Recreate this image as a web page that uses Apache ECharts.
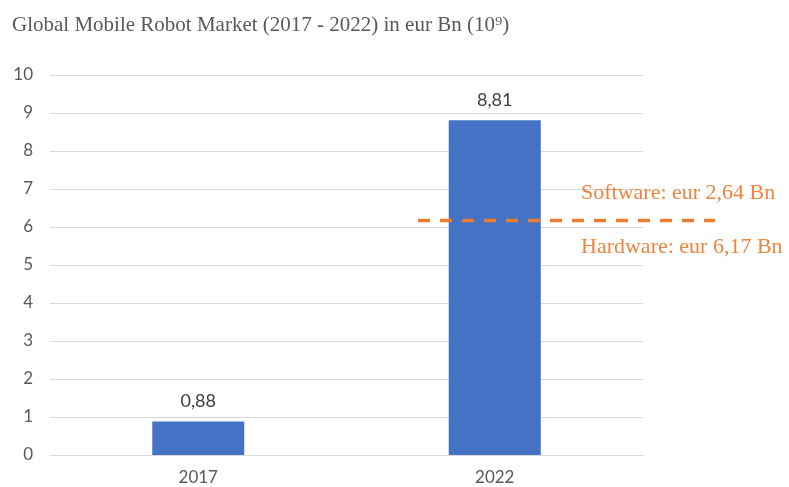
<!DOCTYPE html>
<html>
<head>
<meta charset="utf-8">
<script src="https://cdn.jsdelivr.net/npm/echarts@6/dist/echarts.min.js"></script>
<style>
  html, body { margin: 0; padding: 0; background: #fff; }
  #chart { width: 789px; height: 487px; }
</style>
</head>
<body>
<div id="chart"></div>
<script>
// data
const years = ['2017', '2022'];
const marketValues = [0.88, 8.81];
const hardwareValue = 6.17;
const softwareValue = 2.64;

const fmt = (v) => v.toFixed(2).replace('.', ',');

const chart = echarts.init(document.getElementById('chart'));

chart.setOption({
  animation: false,
  title: {
    text: 'Global Mobile Robot Market (2017 - 2022) in eur Bn (10⁹)',
    left: 7,
    top: 10,
    textStyle: {
      fontFamily: 'Liberation Serif',
      fontWeight: 'normal',
      fontSize: 21,
      color: '#595959',
    },
  },
  grid: [
    { left: 50, right: 146, top: 75, bottom: 32 },
    // grid used only for the split line across the 2022 bar
    { left: 418, right: 74, top: 75, bottom: 32 },
  ],
  xAxis: [
    {
      type: 'category',
      data: years,
      gridIndex: 0,
      axisLine: { lineStyle: { color: '#d9d9d9' } },
      axisTick: { show: false },
      axisLabel: { color: '#595959', fontSize: 17, fontFamily: 'Lato', margin: 14 },
    },
    { type: 'value', gridIndex: 1, min: 0, max: 1, show: false },
  ],
  yAxis: [
    {
      type: 'value',
      gridIndex: 0,
      min: 0,
      max: 10,
      interval: 1,
      axisLine: { show: false },
      axisTick: { show: false },
      splitLine: { lineStyle: { color: '#d9d9d9' } },
      axisLabel: { color: '#595959', fontSize: 17, fontFamily: 'Lato', margin: 17 },
    },
    { type: 'value', gridIndex: 1, min: 0, max: 10, show: false },
  ],
  series: [
    {
      type: 'bar',
      data: marketValues,
      barWidth: 92,
      itemStyle: { color: '#4472c4' },
      label: {
        show: true,
        position: 'top',
        distance: 11,
        color: '#404040',
        fontSize: 18,
        fontFamily: 'Lato',
        formatter: (p) => fmt(p.value),
      },
    },
    {
      type: 'line',
      xAxisIndex: 1,
      yAxisIndex: 1,
      symbol: 'circle',
      symbolSize: 0,
      lineStyle: { color: '#ed7d31', width: 3.5, type: [12, 10] },
      data: [
        [0, hardwareValue],
        {
          value: [1, hardwareValue],
          label: {
            show: true,
            position: [-134, 0],
            align: 'left',
            verticalAlign: 'middle',
            formatter: '{a|Software: eur ' + fmt(softwareValue) + ' Bn}\n{a|Hardware: eur ' + fmt(hardwareValue) + ' Bn}',
            rich: {
              a: {
                fontFamily: 'Liberation Serif',
                fontSize: 22,
                color: '#ee8440',
                lineHeight: 54,
              },
            },
          },
        },
      ],
    },
  ],
});

window.addEventListener('resize', function () {
  chart.resize();
});
</script>
</body>
</html>
